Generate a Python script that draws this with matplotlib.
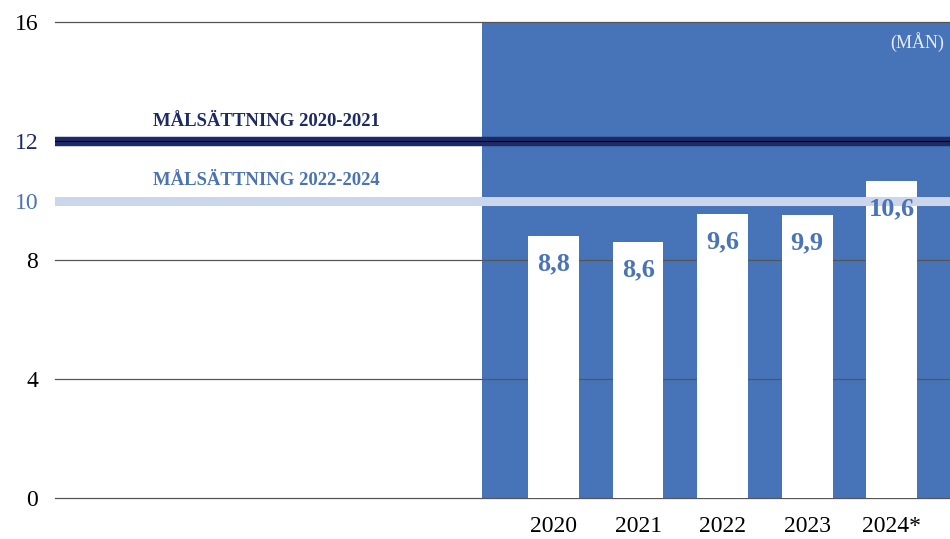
import matplotlib.pyplot as plt

# data
years = ['2020', '2021', '2022', '2023', '2024*']
value_labels = ['8,8', '8,6', '9,6', '9,9', '10,6']
bar_heights = [8.8, 8.6, 9.55, 9.5, 10.65]   # heights as drawn
goal_old = 12      # målsättning 2020-2021
goal_new = 10      # målsättning 2022-2024
ytick_values = [0, 4, 8, 10, 12, 16]
ytick_labels = ['0', '4', '8', '10', '12', '16']

blue = '#4774B8'
navy = '#1C2A66'
light = '#CBD5EC'
label_blue = '#4A74B5'

plt.rcParams['font.family'] = ['Liberation Serif', 'DejaVu Serif']

fig = plt.figure(figsize=(9.5, 5.39), dpi=100)
ax = fig.add_axes([55 / 950, 40.7 / 539, 895 / 950, 476.3 / 539])

x = list(range(len(years)))
ax.set_xlim(-5.9, 4.69)
ax.set_ylim(0, 16)

# blue background behind the bars
ax.axvspan(-0.85, 4.69, color=blue, zorder=1, lw=0)

# grid lines
for y in [0, 4, 8, 16]:
    ax.axhline(y, color='#555555', lw=0.9, zorder=2, clip_on=False)

ax.bar(x, bar_heights, width=0.6, color='white', zorder=3)

# goal lines
ax.axhline(goal_old, color=navy, lw=6.8, zorder=4)
ax.axhline(goal_old, color='black', lw=0.8, zorder=5)
ax.axhline(goal_new, color=light, lw=6.5, zorder=4)

ax.text(-3.40, goal_old + 0.65, 'MÅLSÄTTNING 2020-2021', color=navy,
        fontsize=13.5, fontweight='bold', ha='center', va='center', zorder=6)
ax.text(-3.40, goal_new + 0.66, 'MÅLSÄTTNING 2022-2024', color=label_blue,
        fontsize=13.5, fontweight='bold', ha='center', va='center', zorder=6)

# value labels inside the bars
for xi, h, lab in zip(x, bar_heights, value_labels):
    ax.annotate(lab, (xi, h), xytext=(0, -20), textcoords='offset points',
                ha='center', va='center', fontsize=19, fontweight='bold',
                color=label_blue, zorder=7)

ax.text(0.993, 0.958, '(MÅN)', transform=ax.transAxes, ha='right', va='center',
        color='#E6ECF7', fontsize=13, zorder=6)

# axes styling
for s in ax.spines.values():
    s.set_visible(False)
ax.set_yticks(ytick_values)
ax.set_yticklabels(ytick_labels, fontsize=17)
for t, v in zip(ax.get_yticklabels(), ytick_values):
    if v == goal_old:
        t.set_color(navy)
    elif v == goal_new:
        t.set_color(label_blue)
ax.set_xticks(x)
ax.set_xticklabels(years, fontsize=17)
ax.tick_params(axis='y', length=0, pad=12)
ax.tick_params(axis='x', length=0, pad=13)

plt.savefig('out.png', dpi=100)
